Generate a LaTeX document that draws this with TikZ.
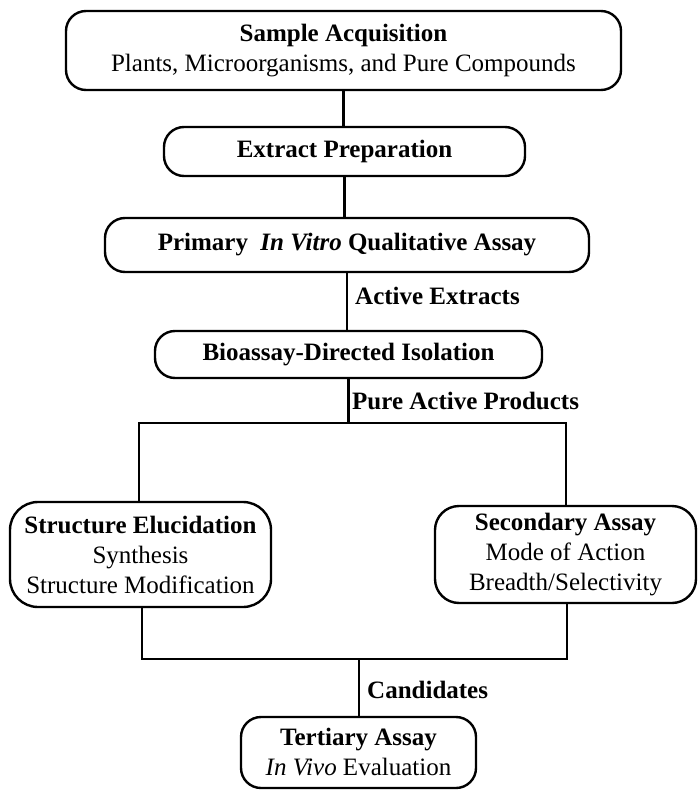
\documentclass[tikz,border=0pt]{standalone}
\usepackage{fontspec}
\setmainfont{Liberation Serif}
\usetikzlibrary{calc, positioning}

\begin{document}
\begin{tikzpicture}[x=1pt, y=-1pt,
		stage/.style={draw, line width=2.4pt, rounded corners=20pt, align=center, inner sep=0pt,
			font=\fontsize{25}{30}\selectfont},
		tag/.style={anchor=west, inner sep=0pt, font=\fontsize{25}{30}\selectfont\bfseries},
		link/.style={line width=2.2pt}]
				\useasboundingbox (0,0) rectangle (698,791);
				%Main chain of boxes
				\node [stage, minimum width=555pt, minimum height=79pt] (sample) at (343.5,50.5)
					{\textbf{Sample Acquisition}\\Plants, Microorganisms, and Pure Compounds};
				\node [stage, minimum width=361pt, minimum height=49pt] (extract) at (344.5,151.5)
					{\textbf{Extract Preparation}};
				\node [stage, minimum width=484pt, minimum height=54pt] (primary) at (347,245)
					{\textbf{Primary\hspace{0.25em} \textit{In Vitro} Qualitative Assay}};
				\node [stage, minimum width=387pt, minimum height=47pt] (bioassay) at (348.5,354.5)
					{\textbf{Bioassay-Directed Isolation}};
				%The two branches
				\node [stage, rounded corners=28pt, minimum width=261pt, minimum height=105pt] (structure) at (140.5,554.5)
					{\textbf{Structure Elucidation}\\Synthesis\\Structure Modification};
				\node [stage, rounded corners=24pt, minimum width=261pt, minimum height=97pt] (secondary) at (565.5,554.5)
					{\textbf{Secondary Assay}\\Mode of Action\\Breadth/Selectivity};
				%Last box
				\node [stage, minimum width=235pt, minimum height=71pt] (tertiary) at (358.5,752.5)
					{\textbf{Tertiary Assay}\\\textit{In Vivo} Evaluation};
				%Straight links
				\draw [link] (sample.south) -- (sample.south |- extract.north);
				\draw [link] (extract.south) -- (extract.south |- primary.north);
				\draw [link] (primary.south) -- (primary.south |- bioassay.north);
				%Split after the isolation
				\coordinate (splitC) at (348.5,423);
				\coordinate (splitL) at (139,423);
				\coordinate (splitR) at (566,423);
				\draw [link] (bioassay.south) -- (splitC);
				\draw [link] (splitL |- structure.north) -- (splitL) -- (splitR) -- (splitR |- secondary.north);
				%Join before the last box
				\coordinate (joinL) at (142,659);
				\coordinate (joinR) at (567,659);
				\coordinate (joinC) at (359,659);
				\draw [link] (joinL |- structure.south) -- (joinL) -- (joinR) -- (joinR |- secondary.south);
				\draw [link] (joinC) -- (joinC |- tertiary.north);
				%Labels on the links
				\node [tag] (activeLabel) at (355,296) {Active Extracts};
				\node [tag] (pureLabel) at (352,401) {Pure Active Products};
				\node [tag] (candLabel) at (367,690) {Candidates};
\end{tikzpicture}
\end{document}
